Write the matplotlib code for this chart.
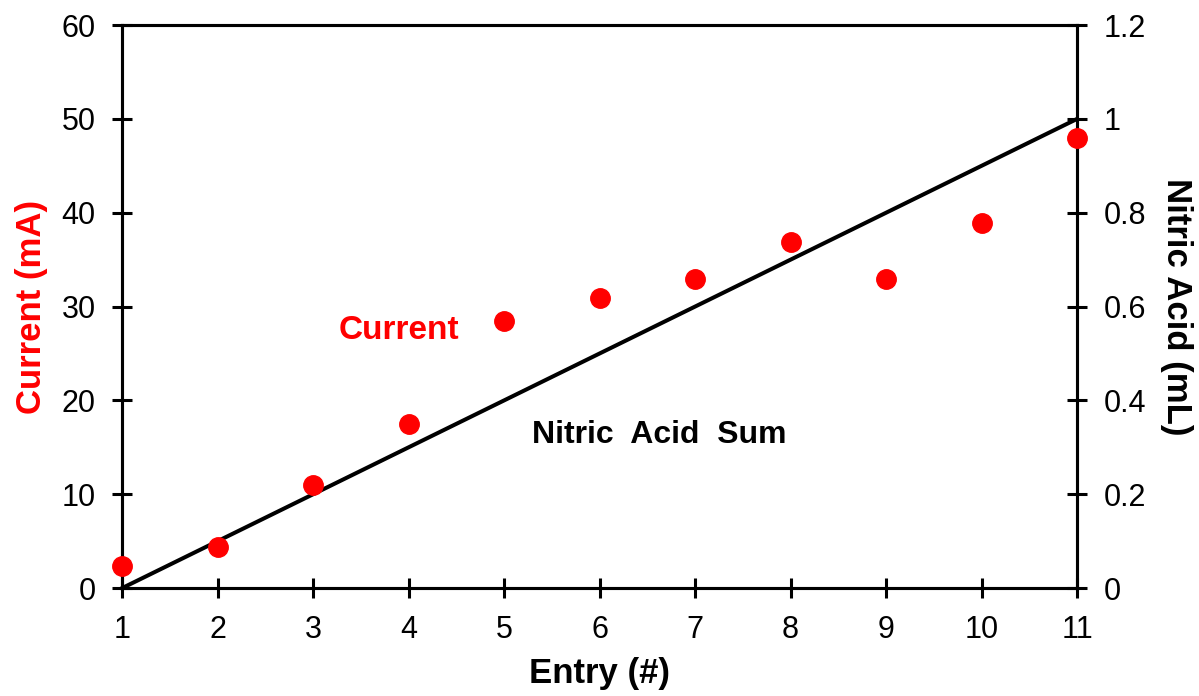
import numpy as np
import matplotlib.pyplot as plt

plt.rcParams['font.family'] = ['Liberation Sans', 'DejaVu Sans']

entry = [1, 2, 3, 4, 5, 6, 7, 8, 9, 10, 11]
current = [2.4, 4.4, 11.0, 17.5, 28.5, 30.9, 32.9, 36.9, 32.9, 38.9, 48.0]
nitric_sum = [0.0, 0.1, 0.2, 0.3, 0.4, 0.5, 0.6, 0.7, 0.8, 0.9, 1.0]

fig = plt.figure(figsize=(11.99, 6.96), dpi=100)
ax = fig.add_axes([0.1018, 0.155, 0.7965, 0.809])
ax2 = ax.twinx()

ax.plot(entry, current, 'o', color='#ff0000', markersize=14, zorder=3, clip_on=False)
ax2.plot(entry, nitric_sum, '-', color='black', linewidth=2.9, clip_on=False)
ax.set_zorder(2)
ax.patch.set_visible(False)

ax.set_xlim(1, 11)
ax.set_ylim(0, 60)
ax2.set_ylim(0, 1.2)
ax.set_xticks(range(1, 12))
ax.set_yticks(range(0, 61, 10))
ax2.set_yticks([0, 0.2, 0.4, 0.6, 0.8, 1.0, 1.2])
ax2.set_yticklabels(['0', '0.2', '0.4', '0.6', '0.8', '1', '1.2'])

for a in (ax, ax2):
    for s in a.spines.values():
        s.set_linewidth(2.2)
    a.tick_params(direction='inout', length=14, width=2.2, labelsize=22, pad=12)

ax.set_xlabel('Entry (#)', fontsize=25, fontweight='bold', labelpad=9)
ax.set_ylabel('Current (mA)', fontsize=25, fontweight='bold', color='#ff0000', labelpad=10)
ax2.set_ylabel('Nitric Acid (mL)', fontsize=25, fontweight='bold', rotation=270,
               va='bottom', labelpad=10)

ax.text(3.9, 27.4, 'Current', color='#ff0000', fontsize=24, fontweight='bold', ha='center', va='center')
ax.text(6.63, 16.3, 'Nitric  Acid  Sum', color='black', fontsize=23, fontweight='bold', ha='center', va='center')

fig.savefig('out.png', dpi=100)
